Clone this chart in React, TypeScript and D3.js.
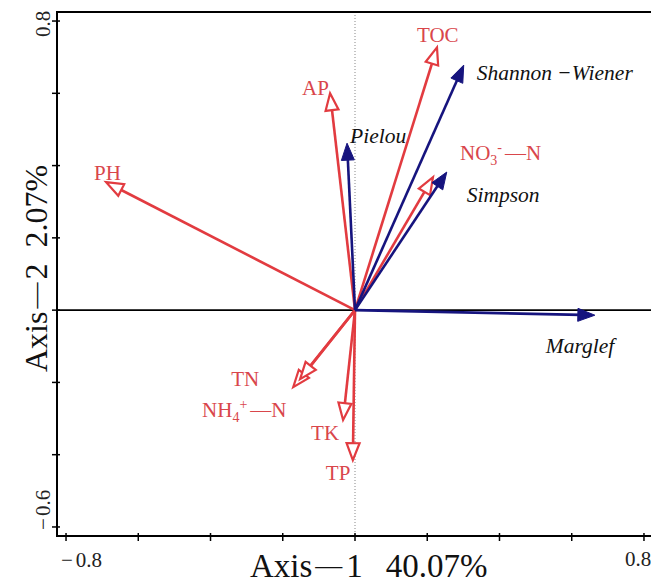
import * as d3 from 'd3'

// RDA biplot: environmental factors (red, hollow heads) vs diversity indices (blue, solid heads)
const envNames = ['PH', 'AP', 'TOC', 'NO3', 'TN', 'NH4', 'TK', 'TP']
const envX = [-0.689, -0.069, 0.227, 0.216, -0.171, -0.152, -0.033, -0.006]
const envY = [0.354, 0.6, 0.727, 0.368, -0.213, -0.191, -0.304, -0.415]

const divNames = ['Shannon −Wiener', 'Pielou', 'Simpson', 'Marglef']
const divX = [0.301, -0.022, 0.254, 0.664]
const divY = [0.678, 0.462, 0.382, -0.014]

const xTicks = [-0.8, -0.6, -0.4, -0.2, 0, 0.2, 0.4, 0.6, 0.8]
const yTicks = [-0.6, -0.4, -0.2, 0, 0.2, 0.4, 0.6, 0.8]

// label offsets from the arrow tip, in px (layout only)
const envLabelOffset = [[-12, -2], [-28, 2], [-20, -5], [27, -17], [-62, -1], [-98, 38], [-32, 20], [-27, 20]]
const divLabelOffset = [[13, 15], [3, 0], [20, 30], [-49, 38]]

const W = 651
const H = 585
const RED = '#e23b40'
const RED_TEXT = '#d9464b'
const BLUE = '#16147e'
const FONT = '"Liberation Serif", "Times New Roman", serif'

const x = d3.scaleLinear().domain([-0.825, 0.825]).range([57, 653])
const y = d3.scaleLinear().domain([-0.625, 0.825]).range([536, 12])

function Arrow({ tx, ty, color, hollow }: { tx: number; ty: number; color: string; hollow: boolean }) {
  const x0 = x(0), y0 = y(0)
  const x1 = x(tx), y1 = y(ty)
  const len = Math.hypot(x1 - x0, y1 - y0)
  const ux = (x1 - x0) / len, uy = (y1 - y0) / len
  const L = 17, hw = 6.5
  const bx = x1 - ux * L, by = y1 - uy * L
  const px = -uy, py = ux
  const pts = [[x1, y1], [bx + px * hw, by + py * hw], [bx - px * hw, by - py * hw]]
  const sx = hollow ? bx : bx + ux * 3
  const sy = hollow ? by : by + uy * 3
  return (
    <g>
      <line x1={x0} y1={y0} x2={sx} y2={sy} stroke={color} strokeWidth={2.6} />
      <polygon
        points={pts.map(p => p.join(',')).join(' ')}
        fill={hollow ? '#fff' : color}
        stroke={color}
        strokeWidth={hollow ? 2.2 : 1}
        strokeLinejoin="miter"
      />
    </g>
  )
}

function envLabel(name: string) {
  if (name === 'NO3') {
    return (
      <>
        NO<tspan fontSize={14} dy={5}>3</tspan>
        <tspan fontSize={14} dy={-13}>-</tspan>
        <tspan dy={8} dx={3}>—N</tspan>
      </>
    )
  }
  if (name === 'NH4') {
    return (
      <>
        NH<tspan fontSize={14} dy={5}>4</tspan>
        <tspan fontSize={14} dy={-13}>+</tspan>
        <tspan dy={8} dx={3}>—N</tspan>
      </>
    )
  }
  return name
}

export default function App() {
  return (
    <svg width={W} height={H} style={{ position: 'absolute', left: 0, top: 0, background: '#fff' }} fontFamily={FONT}>
      {/* origin reference lines */}
      <line x1={x(0)} x2={x(0)} y1={y.range()[1]} y2={y.range()[0]} stroke="#888" strokeWidth={1} strokeDasharray="1,2" />
      <line x1={x.range()[0]} x2={x.range()[1]} y1={y(0)} y2={y(0)} stroke="#000" strokeWidth={1.6} />

      {/* frame */}
      <rect x={x.range()[0]} y={y.range()[1]} width={x.range()[1] - x.range()[0]} height={y.range()[0] - y.range()[1]}
        fill="none" stroke="#000" strokeWidth={2} />

      {xTicks.map(t => (
        <line key={'xt' + t} x1={x(t)} x2={x(t)} y1={y.range()[0] - 3} y2={y.range()[0] + 5} stroke="#000" strokeWidth={1.5} />
      ))}
      {yTicks.map(t => (
        <line key={'yt' + t} x1={x.range()[0] - 5} x2={x.range()[0] + 3} y1={y(t)} y2={y(t)} stroke="#000" strokeWidth={1.5} />
      ))}

      {/* tick labels (only the ends are labelled) */}
      <text x={x(-0.8) - 5} y={y.range()[0] + 31} fontSize={21} fill="#222">−<tspan dx={3}>0.8</tspan></text>
      <text x={x(0.8) - 19} y={y.range()[0] + 30} fontSize={21} fill="#222">0.8</text>
      <text transform={`translate(${x.range()[0] - 7},${y(0.8) + 16}) rotate(-90)`} fontSize={21} fill="#222">0.8</text>
      <text transform={`translate(${x.range()[0] - 7},${y(-0.6) + 3}) rotate(-90)`} fontSize={21} fill="#222">−<tspan dx={2}>0.6</tspan></text>

      {/* axis titles */}
      <text x={250} y={577} fontSize={33} fill="#111">
        Axis<tspan fontSize={27} dx={3} dy={-3}>—</tspan><tspan dx={4} dy={3}>1</tspan><tspan dx={23}>40.07%</tspan>
      </text>
      <text transform="translate(47,372) rotate(-90)" fontSize={32} fill="#111">
        Axis<tspan fontSize={26} dx={3} dy={-3}>—</tspan><tspan dx={3} dy={3}>2</tspan><tspan dx={16}>2.07%</tspan>
      </text>

      {/* environmental factors */}
      {envNames.map((n, i) => (
        <Arrow key={'ea' + n} tx={envX[i]} ty={envY[i]} color={RED} hollow={true} />
      ))}
      {/* diversity indices */}
      {divNames.map((n, i) => (
        <Arrow key={'da' + n} tx={divX[i]} ty={divY[i]} color={BLUE} hollow={false} />
      ))}

      {envNames.map((n, i) => (
        <text key={'el' + n} x={x(envX[i]) + envLabelOffset[i][0]} y={y(envY[i]) + envLabelOffset[i][1]}
          fontSize={21} fill={RED_TEXT}>
          {envLabel(n)}
        </text>
      ))}
      {divNames.map((n, i) => (
        <text key={'dl' + n} x={x(divX[i]) + divLabelOffset[i][0]} y={y(divY[i]) + divLabelOffset[i][1]}
          fontSize={21.5} fontStyle="italic" fill="#111">
          {n}
        </text>
      ))}
    </svg>
  )
}
